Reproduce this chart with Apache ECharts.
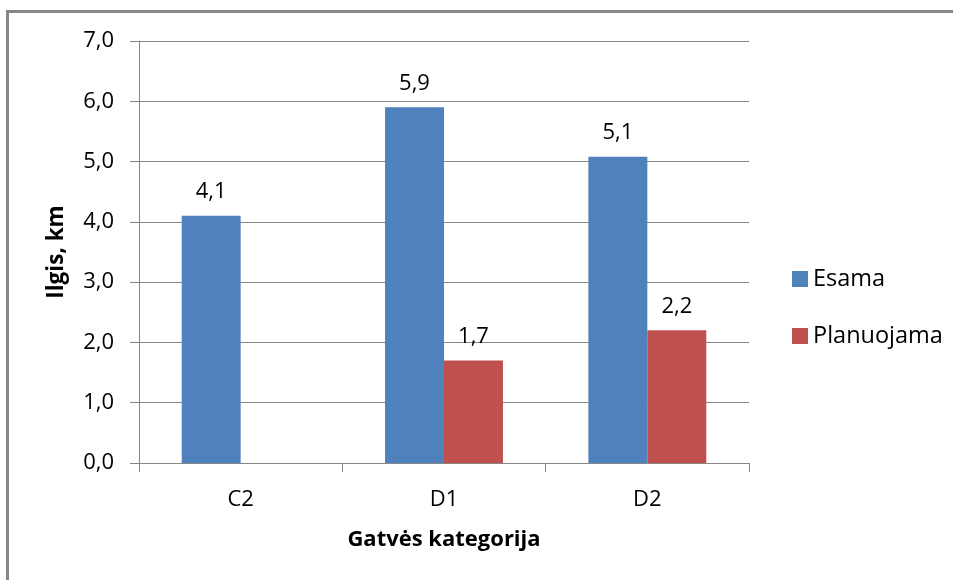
<!DOCTYPE html>
<html>
<head>
<meta charset="utf-8">
<script src="https://cdn.jsdelivr.net/npm/echarts@6/dist/echarts.min.js"></script>
<style>
html,body{margin:0;padding:0;background:#fff;}
#c{width:953px;height:580px;}
</style>
</head>
<body>
<div id="c"></div>
<script>
const categories = ['C2', 'D1', 'D2'];
const esama = [4.1, 5.9, 5.08];
const planuojama = [null, 1.7, 2.2];
const seriesNames = ['Esama', 'Planuojama'];
const yTicks = { min: 0, max: 7, interval: 1 };
const xTitle = 'Gatvės kategorija';
const yTitle = 'Ilgis, km';

const FONT = 'Open Sans';
const GRAY = '#868686';
const fmt = v => Number(v).toFixed(1).replace('.', ',');

const chart = echarts.init(document.getElementById('c'));
chart.setOption({
  animation: false,
  backgroundColor: '#fff',
  textStyle: { fontFamily: FONT, color: '#000' },
  graphic: [
    { type: 'rect', shape: { x: 6, y: 10, width: 947, height: 3 }, style: { fill: '#878787' } },
    { type: 'rect', shape: { x: 6, y: 10, width: 3, height: 570 }, style: { fill: '#878787' } }
  ],
  grid: { left: 139, right: 204, top: 41, bottom: 117, containLabel: false },
  legend: {
    orient: 'vertical',
    left: 792,
    top: 267,
    padding: 0,
    itemWidth: 16,
    itemHeight: 16,
    itemGap: 33,
    icon: 'rect',
    data: seriesNames,
    textStyle: { fontFamily: FONT, fontSize: 23.5, color: '#000', lineHeight: 16 }
  },
  xAxis: {
    type: 'category',
    data: categories,
    name: xTitle,
    nameLocation: 'middle',
    nameGap: 66,
    nameTextStyle: { fontFamily: FONT, fontSize: 22, fontWeight: 'bold', color: '#000' },
    axisLine: { show: true, lineStyle: { color: GRAY, width: 1 } },
    axisTick: { show: true, length: 9, lineStyle: { color: GRAY } },
    axisLabel: { margin: 26, fontFamily: FONT, fontSize: 22, color: '#000' },
    splitLine: { show: false }
  },
  yAxis: {
    type: 'value',
    min: yTicks.min,
    max: yTicks.max,
    interval: yTicks.interval,
    name: yTitle,
    nameLocation: 'middle',
    nameGap: 71,
    nameRotate: 90,
    nameTextStyle: { fontFamily: FONT, fontSize: 22.5, fontWeight: 'bold', color: '#000' },
    axisLine: { show: true, lineStyle: { color: GRAY, width: 1 } },
    axisTick: { show: true, length: 9, lineStyle: { color: GRAY } },
    axisLabel: { margin: 25, fontFamily: FONT, fontSize: 22, color: '#000', formatter: fmt },
    splitLine: { show: true, lineStyle: { color: GRAY, width: 1 } }
  },
  series: [
    {
      name: seriesNames[0],
      type: 'bar',
      data: esama,
      itemStyle: { color: '#4F81BD' },
      barGap: '0%',
      barCategoryGap: '42%',
      label: { show: true, position: 'top', distance: 13, fontFamily: FONT, fontSize: 22, color: '#000',
        formatter: p => fmt(p.value) }
    },
    {
      name: seriesNames[1],
      type: 'bar',
      data: planuojama,
      itemStyle: { color: '#C0504D' },
      barGap: '0%',
      barCategoryGap: '42%',
      label: { show: true, position: 'top', distance: 13, fontFamily: FONT, fontSize: 22, color: '#000',
        formatter: p => fmt(p.value) }
    }
  ]
});
</script>
</body>
</html>
